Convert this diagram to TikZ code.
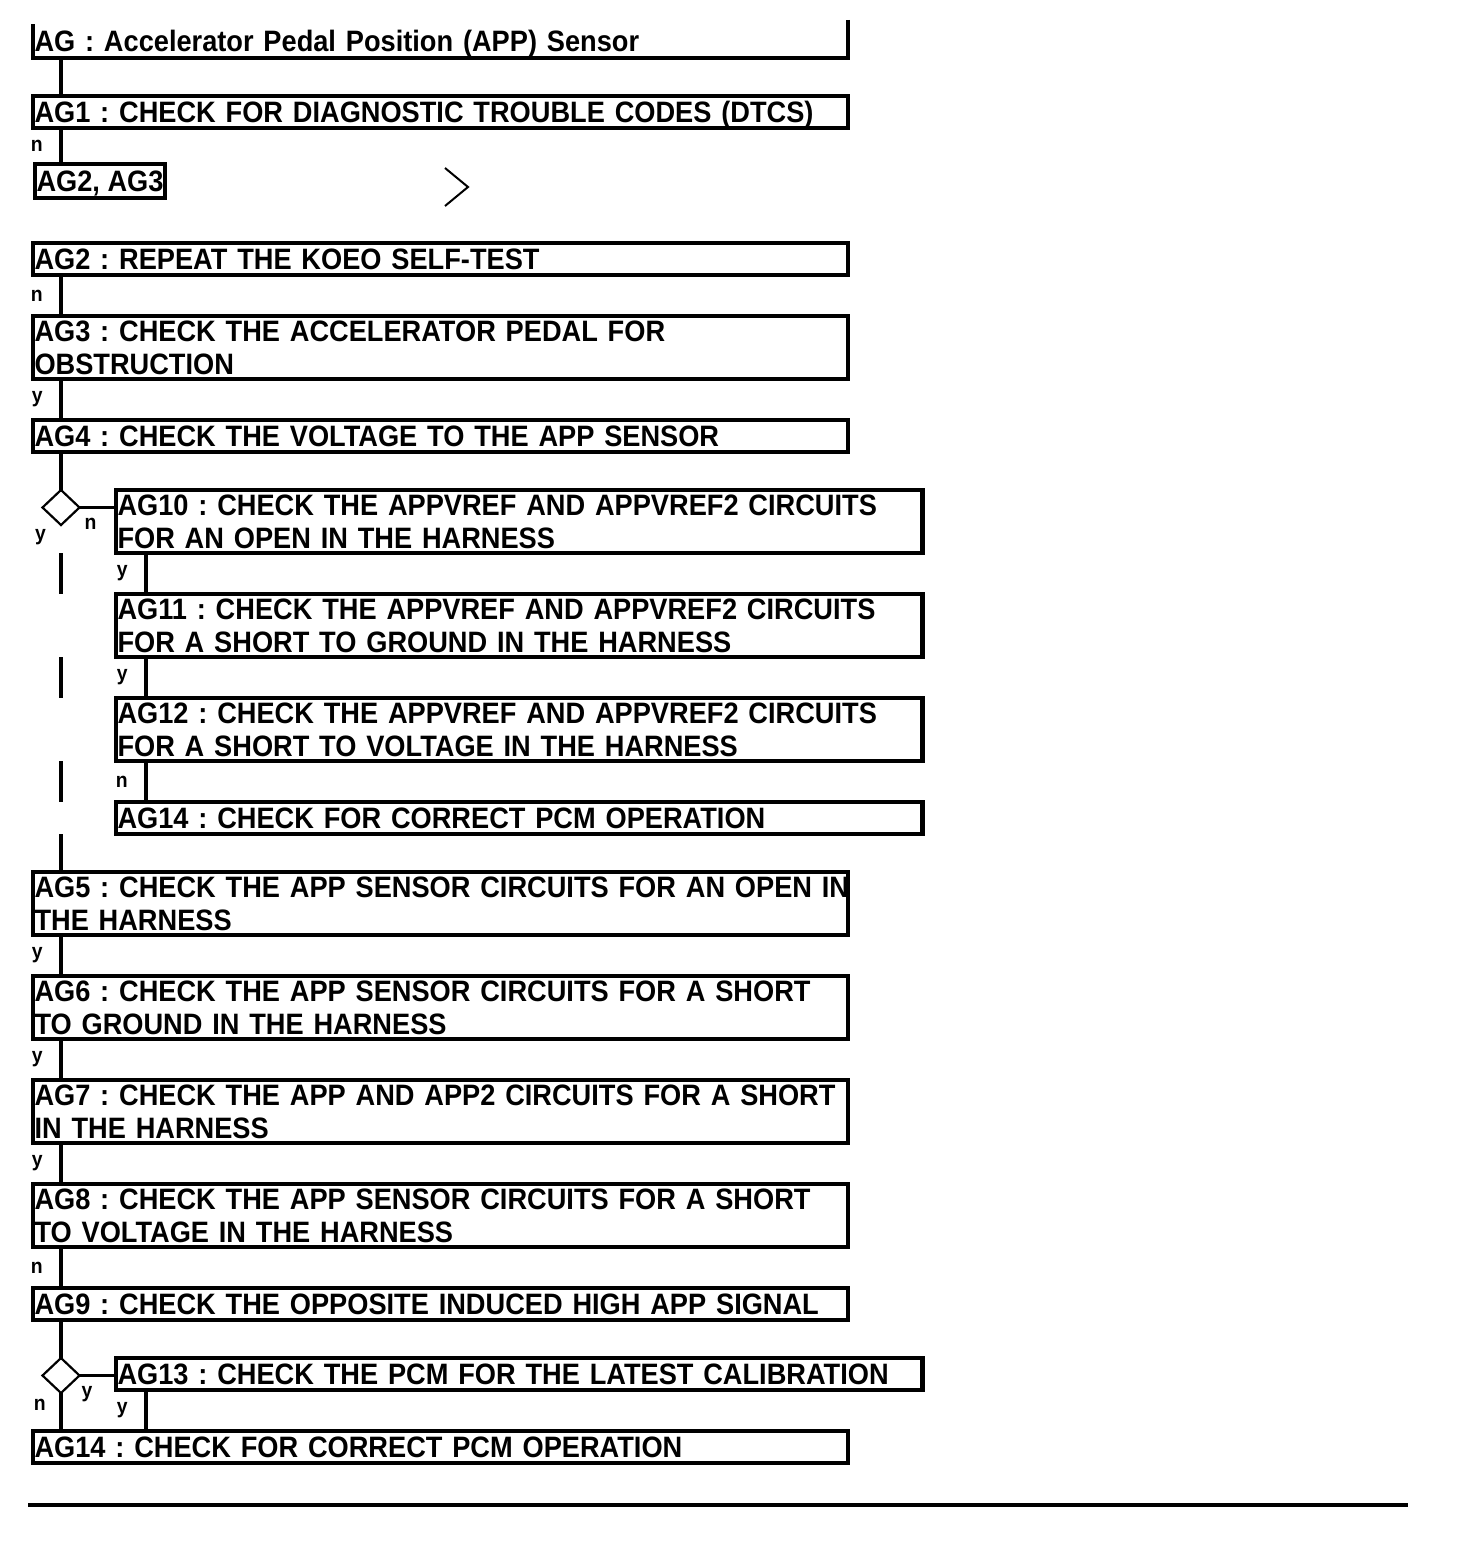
\documentclass[tikz,border=0pt]{standalone}
\usepackage{fontspec}
\setmainfont{Liberation Sans}[FakeStretch=0.922]
\usetikzlibrary{positioning, shapes.geometric}

\newcommand\cellfont{\fontsize{29.5}{32.4}\selectfont\bfseries\frenchspacing}

\tikzset{
  box/.style={draw, rectangle, line width=4.5pt, outer sep=0pt,
    inner xsep=1.5pt, inner ysep=0pt, minimum height=32pt,
    text width=812pt, align=left, text height=21pt, text depth=0pt,
    font=\cellfont},
  twoline/.style={box, minimum height=63pt, text depth=32.4pt},
  subbox/.style={text width=803.5pt},
  title/.style={box, draw=none, minimum height=34pt},
  tagbox/.style={draw, rectangle, line width=4.5pt, outer sep=0pt,
    inner xsep=1.5pt, inner ysep=0pt, minimum height=34pt,
    text height=21pt, text depth=0pt, font=\cellfont},
  dia/.style={draw, diamond, line width=2.2pt, minimum width=37pt,
    minimum height=35pt, inner sep=0pt, outer sep=0pt},
  link/.style={line width=4.5pt},
  thinlink/.style={line width=2.2pt},
  lbl/.style={inner sep=0pt, font=\fontsize{21}{21}\selectfont\bfseries}
}

\begin{document}
\begin{tikzpicture}[x=1pt, y=-1pt, node distance=41pt]
  \useasboundingbox (0,0) rectangle (1456,1544);

  % main column
  \node[title, anchor=south west] (ag) at (33,58) {AG : Accelerator Pedal Position (APP) Sensor};
  \coordinate (mainx) at ([xshift=28pt]ag.south west);
  \node[box, below=38pt of ag.south west, anchor=north west] (ag1) {AG1 : CHECK FOR DIAGNOSTIC TROUBLE CODES (DTCS)};
  \node[tagbox, below=36pt of ag1.south west, anchor=north west, xshift=2pt] (ag23) {AG2, AG3};
  \node[box, below=45pt of ag23.south west, anchor=north west, xshift=-2pt] (ag2) {AG2 : REPEAT THE KOEO SELF-TEST};
  \node[twoline, below=of ag2.south west, anchor=north west] (ag3) {AG3 : CHECK THE ACCELERATOR PEDAL FOR\\OBSTRUCTION};
  \node[box, below=of ag3.south west, anchor=north west] (ag4) {AG4 : CHECK THE VOLTAGE TO THE APP SENSOR};
  \node[dia, below=38pt of ag4.south west, xshift=28pt] (d1) {};

  % branch after AG4
  \node[twoline, subbox, right=55pt of d1.north, anchor=north west] (ag10) {AG10 : CHECK THE APPVREF AND APPVREF2 CIRCUITS\\FOR AN OPEN IN THE HARNESS};
  \coordinate (subx) at ([xshift=30pt]ag10.south west);
  \node[twoline, subbox, below=of ag10.south west, anchor=north west] (ag11) {AG11 : CHECK THE APPVREF AND APPVREF2 CIRCUITS\\FOR A SHORT TO GROUND IN THE HARNESS};
  \node[twoline, subbox, below=of ag11.south west, anchor=north west] (ag12) {AG12 : CHECK THE APPVREF AND APPVREF2 CIRCUITS\\FOR A SHORT TO VOLTAGE IN THE HARNESS};
  \node[box, subbox, below=of ag12.south west, anchor=north west] (ag14r) {AG14 : CHECK FOR CORRECT PCM OPERATION};

  \coordinate (c5) at (ag4.south west |- ag14r.south);
  \node[twoline, below=38pt of c5, anchor=north west] (ag5) {\mbox{AG5 : CHECK THE APP SENSOR CIRCUITS FOR AN OPEN IN}\\THE HARNESS};
  \node[twoline, below=of ag5.south west, anchor=north west] (ag6) {AG6 : CHECK THE APP SENSOR CIRCUITS FOR A SHORT\\TO GROUND IN THE HARNESS};
  \node[twoline, below=of ag6.south west, anchor=north west] (ag7) {AG7 : CHECK THE APP AND APP2 CIRCUITS FOR A SHORT\\IN THE HARNESS};
  \node[twoline, below=of ag7.south west, anchor=north west] (ag8) {AG8 : CHECK THE APP SENSOR CIRCUITS FOR A SHORT\\TO VOLTAGE IN THE HARNESS};
  \node[box, below=of ag8.south west, anchor=north west] (ag9) {AG9 : CHECK THE OPPOSITE INDUCED HIGH APP SIGNAL};
  \node[dia, below=38pt of ag9.south west, xshift=28pt] (d2) {};
  \node[box, subbox, right=55pt of d2.north, anchor=north west] (ag13) {AG13 : CHECK THE PCM FOR THE LATEST CALIBRATION};
  \coordinate (c14) at (ag9.south west |- ag13.south);
  \node[box, below=of c14, anchor=north west] (ag14) {AG14 : CHECK FOR CORRECT PCM OPERATION};

  % open title frame
  \draw[link] ([yshift=4pt]ag.north east) -- (ag.south east) -- (ag.south west) -- (ag.north west);

  % links
  \draw[link] (ag.south -| mainx) -- (ag1.north -| mainx);
  \draw[link] (ag1.south -| mainx) -- node[lbl, left=16pt] {n} (ag23.north -| mainx);
  \draw[line width=2pt] (445,168) -- (468,187) -- (445,206);
  \draw[link] (ag2.south -| mainx) -- node[lbl, left=16pt] {n} (ag3.north -| mainx);
  \draw[link] (ag3.south -| mainx) -- node[lbl, left=16pt] {y} (ag4.north -| mainx);
  \draw[link] (ag4.south -| mainx) -- (d1.north);
  \draw[thinlink] (d1.east) -- (d1.east -| ag10.west);
  \node[lbl, below=22pt of d1.west, xshift=-2pt] {y};
  \node[lbl, below right=10pt and 5pt of d1.east] {n};
  \foreach \a/\b in {ag10/ag11, ag11/ag12, ag12/ag14r, ag14r/ag5}
    \draw[link] (\a.south -| mainx) -- (\b.north -| mainx);
  \draw[link] (ag10.south -| subx) -- node[lbl, left=16pt] {y} (ag11.north -| subx);
  \draw[link] (ag11.south -| subx) -- node[lbl, left=16pt] {y} (ag12.north -| subx);
  \draw[link] (ag12.south -| subx) -- node[lbl, left=16pt] {n} (ag14r.north -| subx);
  \draw[link] (ag5.south -| mainx) -- node[lbl, left=16pt] {y} (ag6.north -| mainx);
  \draw[link] (ag6.south -| mainx) -- node[lbl, left=16pt] {y} (ag7.north -| mainx);
  \draw[link] (ag7.south -| mainx) -- node[lbl, left=16pt] {y} (ag8.north -| mainx);
  \draw[link] (ag8.south -| mainx) -- node[lbl, left=16pt] {n} (ag9.north -| mainx);
  \draw[link] (ag9.south -| mainx) -- (d2.north);
  \draw[thinlink] (d2.east) -- (d2.east -| ag13.west);
  \node[lbl, below right=11pt and 2pt of d2.east] {y};
  \draw[link] (d2.south) -- node[lbl, pos=0.32, left=13pt] {n} (ag14.north -| mainx);
  \draw[link] (ag13.south -| subx) -- node[lbl, left=16pt] {y} (ag14.north -| subx);

  \draw[line width=4.7pt] (28,1505) -- (1408,1505);
\end{tikzpicture}
\end{document}
